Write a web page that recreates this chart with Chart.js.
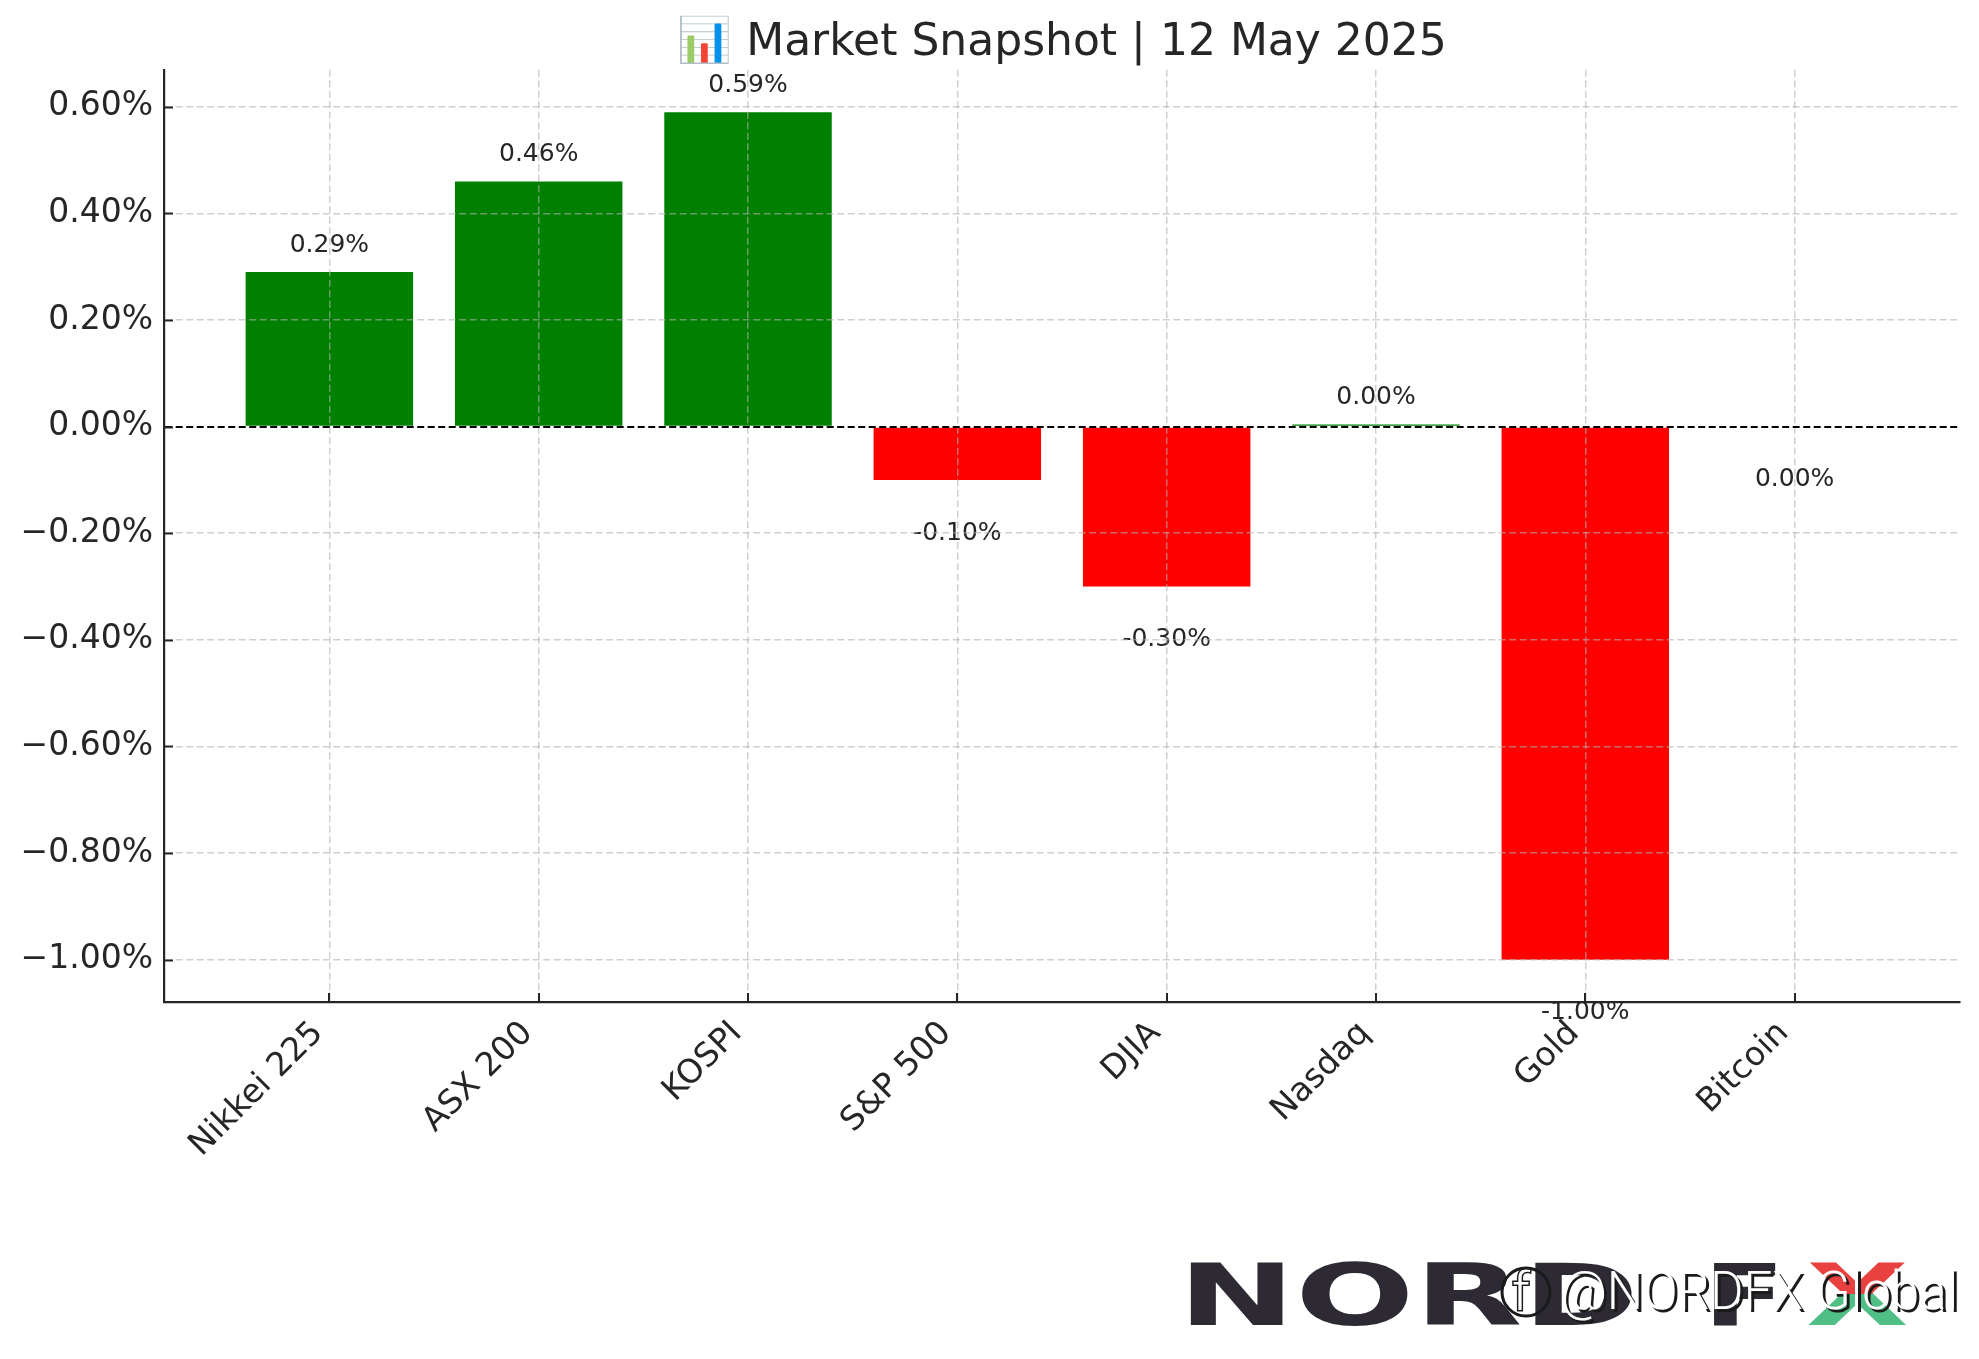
<!DOCTYPE html>
<html>
<head>
<meta charset="utf-8">
<script src="https://cdn.jsdelivr.net/npm/chart.js@4.4.1/dist/chart.umd.min.js"></script>
<style>
  html, body { margin: 0; padding: 0; background: #fff; }
  canvas { display: block; }
</style>
</head>
<body>
<canvas id="snapshot" width="1979" height="1359" style="width:1979px;height:1359px"></canvas>
<script>
// Market data, 12 May 2025 (% change)
const categories = ['Nikkei 225', 'ASX 200', 'KOSPI', 'S&P 500', 'DJIA', 'Nasdaq', 'Gold', 'Bitcoin'];
const changes = [0.29, 0.46, 0.59, -0.10, -0.30, 0.004, -1.00, 0.00];
const yTicks = [-1.0, -0.8, -0.6, -0.4, -0.2, 0, 0.2, 0.4, 0.6];
const xLimits = [-0.79, 7.79];
const yLimits = [-1.0795, 0.6695];

const TEXT = '#262626';
const FONT = '"DejaVu Sans", sans-serif';
const GRID = 'rgba(176,176,176,0.6)';

function pct(v) {
  return (v < 0 ? '\u2212' : '') + Math.abs(v).toFixed(2) + '%';
}

// value labels above / below each bar
const valueLabels = {
  id: 'valueLabels',
  afterDatasetsDraw(chart) {
    const {ctx, scales: {x, y}} = chart;
    ctx.save();
    ctx.font = '25px ' + FONT;
    ctx.fillStyle = TEXT;
    ctx.textAlign = 'center';
    ctx.textBaseline = 'middle';
    changes.forEach((v, i) => {
      const at = v > 0 ? v + 0.05 : v - 0.1;
      ctx.fillText(v.toFixed(2) + '%', x.getPixelForValue(i), y.getPixelForValue(at));
    });
    ctx.restore();
  }
};

// matplotlib style ticks pointing into the axes
const innerTicks = {
  id: 'innerTicks',
  afterDraw(chart) {
    const {ctx, chartArea: a, scales: {x, y}} = chart;
    ctx.save();
    ctx.strokeStyle = TEXT;
    ctx.lineWidth = 2;
    ctx.beginPath();
    y.ticks.forEach((t, i) => {
      const py = Math.round(y.getPixelForTick(i)) + 0.5;
      ctx.moveTo(a.left, py); ctx.lineTo(a.left + 9, py);
    });
    x.ticks.forEach((t, i) => {
      const px = Math.round(x.getPixelForTick(i));
      ctx.moveTo(px, a.bottom); ctx.lineTo(px, a.bottom - 9);
    });
    ctx.stroke();
    ctx.restore();
  }
};

// NordFX watermark in the bottom right corner
const watermark = {
  id: 'watermark',
  afterDraw(chart) {
    const ctx = chart.ctx;
    ctx.save();
    ctx.font = 'bold 86px "DejaVu Sans"';
    ctx.textBaseline = 'alphabetic';
    ctx.fillStyle = '#2e2a33';
    ctx.save();
    ctx.translate(1178, 1325); ctx.scale(1.63, 1);
    ctx.fillText('NORD', 0, 0);
    ctx.restore();
    ctx.save();
    ctx.translate(1703, 1325); ctx.scale(1.4, 1);
    ctx.fillText('F', 0, 0);
    ctx.restore();
    // two-colour X
    [['#e8413f', 1240, 1294], ['#4fbf85', 1294, 1330]].forEach(([c, y0, y1]) => {
      ctx.save();
      ctx.beginPath(); ctx.rect(1800, y0, 140, y1 - y0); ctx.clip();
      ctx.fillStyle = c;
      ctx.translate(1806, 1325); ctx.scale(1.55, 1);
      ctx.fillText('X', 0, 0);
      ctx.restore();
    });
    // social handle
    ctx.font = '300 54px Roboto, "Open Sans", sans-serif';
    ctx.textAlign = 'left';
    ctx.lineWidth = 3;
    ctx.strokeStyle = '#1a1a1a';
    ctx.fillStyle = '#ffffff';
    ctx.strokeText('f', 1512, 1310);
    ctx.fillText('f', 1512, 1310);
    ctx.beginPath(); ctx.arc(1526, 1292, 24, 0, Math.PI * 2); ctx.stroke();
    ctx.fillStyle = '#1a1a1a';
    ctx.fillText('@NORDFX Global', 1563, 1312, 398);
    ctx.fillStyle = '#ffffff';
    ctx.fillText('@NORDFX Global', 1560, 1309, 398);
    ctx.restore();
  }
};

new Chart(document.getElementById('snapshot').getContext('2d'), {
  type: 'bar',
  data: {
    datasets: [{
      data: changes.map((v, i) => ({x: i, y: v})),
      backgroundColor: changes.map(v => v > 0 ? '#008000' : '#ff0000'),
      borderWidth: 0,
      barPercentage: 0.8,
      categoryPercentage: 1.0
    }]
  },
  options: {
    responsive: false,
    devicePixelRatio: 1,
    animation: false,
    layout: { padding: { left: 0, right: 19, top: 1, bottom: 0 } },
    plugins: {
      legend: { display: false },
      tooltip: { enabled: false },
      title: {
        display: true,
        fullSize: false,
        text: '\u{1F4CA} Market Snapshot | 12 May 2025',
        color: TEXT,
        font: { family: FONT, size: 44, weight: 'normal', lineHeight: 1.2 },
        padding: { top: 16, bottom: 0 }
      }
    },
    scales: {
      x: {
        type: 'linear',
        offset: false,
        min: xLimits[0],
        max: xLimits[1],
        afterBuildTicks: s => { s.ticks = categories.map((c, i) => ({value: i})); },
        afterFit: s => { s.height = 357; },
        grid: {
          z: 1,
          offset: false,
          drawTicks: false,
          color: GRID,
          lineWidth: 1.5
        },
        border: { display: true, z: 2, color: TEXT, width: 2.2, dash: [7, 3.5] },
        ticks: {
          autoSkip: false,
          minRotation: 45,
          maxRotation: 45,
          padding: 12,
          labelOffset: -11,
          color: TEXT,
          font: { family: FONT, size: 33 },
          callback: v => categories[v]
        }
      },
      y: {
        min: yLimits[0],
        max: yLimits[1],
        afterBuildTicks: s => { s.ticks = yTicks.map(v => ({value: v})); },
        afterFit: s => { s.width = 164; },
        grid: {
          z: 1,
          drawTicks: false,
          color: c => c.tick && c.tick.value === 0 ? '#000000' : GRID,
          lineWidth: c => c.tick && c.tick.value === 0 ? 2 : 1.5
        },
        border: { display: true, z: 2, color: TEXT, width: 2.2, dash: [7, 3.5] },
        ticks: {
          padding: 11,
          color: TEXT,
          font: { family: FONT, size: 33 },
          callback: v => pct(v)
        }
      }
    }
  },
  plugins: [valueLabels, innerTicks, watermark]
});
</script>
</body>
</html>
